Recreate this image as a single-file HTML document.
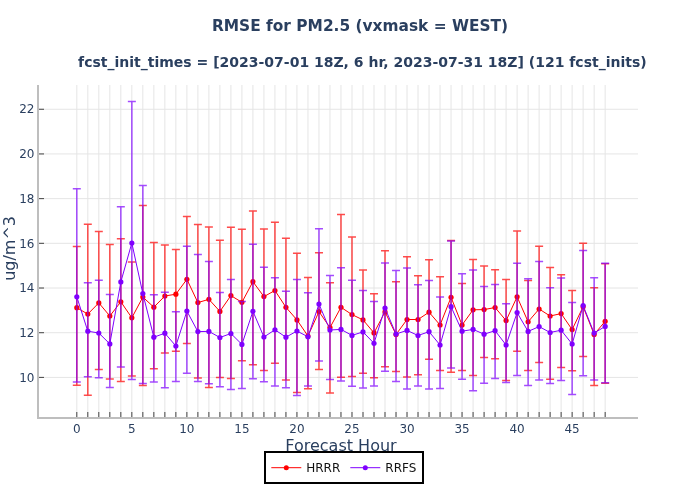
<!DOCTYPE html>
<html><head><meta charset="utf-8"><title>RMSE for PM2.5</title>
<style>html,body{margin:0;padding:0;background:#fff}svg{display:block}text{font-family:"DejaVu Sans", "Liberation Sans", sans-serif}</style></head><body>
<svg width="700" height="500" viewBox="0 0 700 500">
<rect width="700" height="500" fill="#fff"/>
<path d="M76.80,85V417M87.81,85V417M98.81,85V417M109.82,85V417M120.83,85V417M131.84,85V417M142.84,85V417M153.85,85V417M164.86,85V417M175.87,85V417M186.88,85V417M197.88,85V417M208.89,85V417M219.90,85V417M230.91,85V417M241.91,85V417M252.92,85V417M263.93,85V417M274.94,85V417M285.94,85V417M296.95,85V417M307.96,85V417M318.97,85V417M329.97,85V417M340.98,85V417M351.99,85V417M363.00,85V417M374.00,85V417M385.01,85V417M396.02,85V417M407.03,85V417M418.03,85V417M429.04,85V417M440.05,85V417M451.06,85V417M462.06,85V417M473.07,85V417M484.08,85V417M495.09,85V417M506.09,85V417M517.10,85V417M528.11,85V417M539.12,85V417M550.12,85V417M561.13,85V417M572.14,85V417M583.14,85V417M594.15,85V417M605.16,85V417M39,377.40H638M39,332.71H638M39,288.02H638M39,243.32H638M39,198.63H638M39,153.94H638M39,109.25H638" stroke="#e5e5e5" stroke-width="1" fill="none"/>
<g><path d="M72.80,246.40h8m-4,0V385.20m-4,0h8M83.81,224.30h8m-4,0V395.30m-4,0h8M94.81,231.50h8m-4,0V369.40m-4,0h8M105.82,244.50h8m-4,0V379.00m-4,0h8M116.83,238.70h8m-4,0V381.50m-4,0h8M127.84,261.90h8m-4,0V376.10m-4,0h8M138.84,205.40h8m-4,0V385.40m-4,0h8M149.85,242.40h8m-4,0V368.70m-4,0h8M160.86,245.00h8m-4,0V352.90m-4,0h8M171.87,249.60h8m-4,0V351.30m-4,0h8M182.88,216.60h8m-4,0V343.60m-4,0h8M193.88,224.50h8m-4,0V377.90m-4,0h8M204.89,226.90h8m-4,0V387.50m-4,0h8M215.90,240.20h8m-4,0V377.60m-4,0h8M226.91,227.20h8m-4,0V378.40m-4,0h8M237.91,229.30h8m-4,0V360.80m-4,0h8M248.92,211.00h8m-4,0V364.80m-4,0h8M259.93,229.00h8m-4,0V370.50m-4,0h8M270.94,222.20h8m-4,0V363.20m-4,0h8M281.94,238.20h8m-4,0V380.10m-4,0h8M292.95,253.30h8m-4,0V392.60m-4,0h8M303.96,277.50h8m-4,0V388.80m-4,0h8M314.97,252.80h8m-4,0V369.60m-4,0h8M325.97,282.80h8m-4,0V393.10m-4,0h8M336.98,214.50h8m-4,0V377.20m-4,0h8M347.99,237.10h8m-4,0V376.60m-4,0h8M359.00,270.00h8m-4,0V373.20m-4,0h8M370.00,293.70h8m-4,0V377.70m-4,0h8M381.01,250.70h8m-4,0V366.70m-4,0h8M392.02,281.70h8m-4,0V371.60m-4,0h8M403.03,256.80h8m-4,0V376.90m-4,0h8M414.03,275.70h8m-4,0V374.70m-4,0h8M425.04,259.80h8m-4,0V359.20m-4,0h8M436.05,276.80h8m-4,0V370.50m-4,0h8M447.06,240.55h8m-4,0V372.30m-4,0h8M458.06,283.50h8m-4,0V370.50m-4,0h8M469.07,259.50h8m-4,0V375.60m-4,0h8M480.08,266.10h8m-4,0V357.60m-4,0h8M491.09,269.80h8m-4,0V358.70m-4,0h8M502.09,279.40h8m-4,0V380.40m-4,0h8M513.10,231.00h8m-4,0V351.30m-4,0h8M524.11,280.50h8m-4,0V370.40m-4,0h8M535.12,246.20h8m-4,0V362.50m-4,0h8M546.12,267.50h8m-4,0V379.20m-4,0h8M557.13,274.70h8m-4,0V367.50m-4,0h8M568.14,290.40h8m-4,0V370.70m-4,0h8M579.14,243.20h8m-4,0V356.60m-4,0h8M590.15,287.70h8m-4,0V385.50m-4,0h8M601.16,263.65h8m-4,0V383.20m-4,0h8" stroke="rgba(255,0,0,0.7)" stroke-width="1.5" fill="none"/>
<polyline points="76.80,307.70 87.81,314.10 98.81,302.90 109.82,316.00 120.83,301.80 131.84,317.80 142.84,297.10 153.85,307.20 164.86,296.00 175.87,294.20 186.88,279.30 197.88,302.60 208.89,299.30 219.90,311.40 230.91,295.60 241.91,302.30 252.92,281.70 263.93,296.60 274.94,290.50 285.94,307.30 296.95,319.90 307.96,336.00 318.97,311.60 329.97,327.60 340.98,307.30 351.99,314.60 363.00,319.90 374.00,332.90 385.01,311.90 396.02,334.50 407.03,319.50 418.03,319.50 429.04,312.20 440.05,325.00 451.06,297.30 462.06,325.00 473.07,309.80 484.08,309.60 495.09,307.50 506.09,320.60 517.10,296.80 528.11,321.80 539.12,309.00 550.12,316.00 561.13,313.60 572.14,329.60 583.14,306.70 594.15,334.40 605.16,321.30" stroke="#ff0000" stroke-width="1" fill="none"/>
<circle cx="76.80" cy="307.70" r="2.6" fill="#ff0000"/>
<circle cx="87.81" cy="314.10" r="2.6" fill="#ff0000"/>
<circle cx="98.81" cy="302.90" r="2.6" fill="#ff0000"/>
<circle cx="109.82" cy="316.00" r="2.6" fill="#ff0000"/>
<circle cx="120.83" cy="301.80" r="2.6" fill="#ff0000"/>
<circle cx="131.84" cy="317.80" r="2.6" fill="#ff0000"/>
<circle cx="142.84" cy="297.10" r="2.6" fill="#ff0000"/>
<circle cx="153.85" cy="307.20" r="2.6" fill="#ff0000"/>
<circle cx="164.86" cy="296.00" r="2.6" fill="#ff0000"/>
<circle cx="175.87" cy="294.20" r="2.6" fill="#ff0000"/>
<circle cx="186.88" cy="279.30" r="2.6" fill="#ff0000"/>
<circle cx="197.88" cy="302.60" r="2.6" fill="#ff0000"/>
<circle cx="208.89" cy="299.30" r="2.6" fill="#ff0000"/>
<circle cx="219.90" cy="311.40" r="2.6" fill="#ff0000"/>
<circle cx="230.91" cy="295.60" r="2.6" fill="#ff0000"/>
<circle cx="241.91" cy="302.30" r="2.6" fill="#ff0000"/>
<circle cx="252.92" cy="281.70" r="2.6" fill="#ff0000"/>
<circle cx="263.93" cy="296.60" r="2.6" fill="#ff0000"/>
<circle cx="274.94" cy="290.50" r="2.6" fill="#ff0000"/>
<circle cx="285.94" cy="307.30" r="2.6" fill="#ff0000"/>
<circle cx="296.95" cy="319.90" r="2.6" fill="#ff0000"/>
<circle cx="307.96" cy="336.00" r="2.6" fill="#ff0000"/>
<circle cx="318.97" cy="311.60" r="2.6" fill="#ff0000"/>
<circle cx="329.97" cy="327.60" r="2.6" fill="#ff0000"/>
<circle cx="340.98" cy="307.30" r="2.6" fill="#ff0000"/>
<circle cx="351.99" cy="314.60" r="2.6" fill="#ff0000"/>
<circle cx="363.00" cy="319.90" r="2.6" fill="#ff0000"/>
<circle cx="374.00" cy="332.90" r="2.6" fill="#ff0000"/>
<circle cx="385.01" cy="311.90" r="2.6" fill="#ff0000"/>
<circle cx="396.02" cy="334.50" r="2.6" fill="#ff0000"/>
<circle cx="407.03" cy="319.50" r="2.6" fill="#ff0000"/>
<circle cx="418.03" cy="319.50" r="2.6" fill="#ff0000"/>
<circle cx="429.04" cy="312.20" r="2.6" fill="#ff0000"/>
<circle cx="440.05" cy="325.00" r="2.6" fill="#ff0000"/>
<circle cx="451.06" cy="297.30" r="2.6" fill="#ff0000"/>
<circle cx="462.06" cy="325.00" r="2.6" fill="#ff0000"/>
<circle cx="473.07" cy="309.80" r="2.6" fill="#ff0000"/>
<circle cx="484.08" cy="309.60" r="2.6" fill="#ff0000"/>
<circle cx="495.09" cy="307.50" r="2.6" fill="#ff0000"/>
<circle cx="506.09" cy="320.60" r="2.6" fill="#ff0000"/>
<circle cx="517.10" cy="296.80" r="2.6" fill="#ff0000"/>
<circle cx="528.11" cy="321.80" r="2.6" fill="#ff0000"/>
<circle cx="539.12" cy="309.00" r="2.6" fill="#ff0000"/>
<circle cx="550.12" cy="316.00" r="2.6" fill="#ff0000"/>
<circle cx="561.13" cy="313.60" r="2.6" fill="#ff0000"/>
<circle cx="572.14" cy="329.60" r="2.6" fill="#ff0000"/>
<circle cx="583.14" cy="306.70" r="2.6" fill="#ff0000"/>
<circle cx="594.15" cy="334.40" r="2.6" fill="#ff0000"/>
<circle cx="605.16" cy="321.30" r="2.6" fill="#ff0000"/></g>
<g><path d="M72.80,188.80h8m-4,0V382.00m-4,0h8M83.81,282.70h8m-4,0V376.70m-4,0h8M94.81,280.20h8m-4,0V377.80m-4,0h8M105.82,294.60h8m-4,0V387.40m-4,0h8M116.83,206.70h8m-4,0V367.10m-4,0h8M127.84,101.60h8m-4,0V379.60m-4,0h8M138.84,185.60h8m-4,0V383.60m-4,0h8M149.85,294.70h8m-4,0V382.00m-4,0h8M160.86,292.20h8m-4,0V387.80m-4,0h8M171.87,311.70h8m-4,0V381.50m-4,0h8M182.88,246.20h8m-4,0V373.20m-4,0h8M193.88,254.60h8m-4,0V381.60m-4,0h8M204.89,261.60h8m-4,0V383.80m-4,0h8M215.90,292.60h8m-4,0V386.80m-4,0h8M226.91,279.60h8m-4,0V389.60m-4,0h8M237.91,301.40h8m-4,0V388.60m-4,0h8M248.92,244.20h8m-4,0V378.80m-4,0h8M259.93,267.30h8m-4,0V381.70m-4,0h8M270.94,277.80h8m-4,0V385.90m-4,0h8M281.94,291.30h8m-4,0V387.80m-4,0h8M292.95,279.60h8m-4,0V395.50m-4,0h8M303.96,292.70h8m-4,0V386.00m-4,0h8M314.97,228.80h8m-4,0V361.10m-4,0h8M325.97,275.60h8m-4,0V379.60m-4,0h8M336.98,267.70h8m-4,0V380.90m-4,0h8M347.99,280.20h8m-4,0V386.20m-4,0h8M359.00,290.50h8m-4,0V388.00m-4,0h8M370.00,301.50h8m-4,0V386.00m-4,0h8M381.01,262.90h8m-4,0V371.20m-4,0h8M392.02,270.50h8m-4,0V381.40m-4,0h8M403.03,268.00h8m-4,0V388.90m-4,0h8M414.03,284.80h8m-4,0V385.90m-4,0h8M425.04,280.60h8m-4,0V388.90m-4,0h8M436.05,297.10h8m-4,0V388.60m-4,0h8M447.06,241.00h8m-4,0V368.00m-4,0h8M458.06,273.80h8m-4,0V379.20m-4,0h8M469.07,270.10h8m-4,0V390.80m-4,0h8M480.08,286.60h8m-4,0V383.30m-4,0h8M491.09,284.60h8m-4,0V378.40m-4,0h8M502.09,303.70h8m-4,0V382.40m-4,0h8M513.10,263.20h8m-4,0V375.60m-4,0h8M524.11,278.70h8m-4,0V385.60m-4,0h8M535.12,261.40h8m-4,0V380.00m-4,0h8M546.12,287.70h8m-4,0V383.60m-4,0h8M557.13,277.90h8m-4,0V380.40m-4,0h8M568.14,302.40h8m-4,0V394.50m-4,0h8M579.14,250.60h8m-4,0V375.80m-4,0h8M590.15,277.80h8m-4,0V380.10m-4,0h8M601.16,263.15h8m-4,0V382.70m-4,0h8" stroke="rgba(127,0,255,0.7)" stroke-width="1.5" fill="none"/>
<polyline points="76.80,296.80 87.81,331.20 98.81,333.00 109.82,343.90 120.83,281.90 131.84,243.00 142.84,293.60 153.85,337.20 164.86,333.20 175.87,346.00 186.88,311.10 197.88,331.60 208.89,331.40 219.90,337.50 230.91,333.50 241.91,344.40 252.92,311.30 263.93,337.00 274.94,329.80 285.94,337.20 296.95,331.00 307.96,336.80 318.97,304.10 329.97,330.00 340.98,329.40 351.99,335.40 363.00,331.90 374.00,343.30 385.01,308.10 396.02,334.00 407.03,330.40 418.03,335.50 429.04,331.70 440.05,345.00 451.06,306.70 462.06,331.20 473.07,329.40 484.08,334.20 495.09,330.70 506.09,345.00 517.10,312.60 528.11,331.40 539.12,326.60 550.12,332.50 561.13,330.20 572.14,344.00 583.14,305.60 594.15,333.10 605.16,326.40" stroke="#7f00ff" stroke-width="1" fill="none"/>
<circle cx="76.80" cy="296.80" r="2.6" fill="#7f00ff"/>
<circle cx="87.81" cy="331.20" r="2.6" fill="#7f00ff"/>
<circle cx="98.81" cy="333.00" r="2.6" fill="#7f00ff"/>
<circle cx="109.82" cy="343.90" r="2.6" fill="#7f00ff"/>
<circle cx="120.83" cy="281.90" r="2.6" fill="#7f00ff"/>
<circle cx="131.84" cy="243.00" r="2.6" fill="#7f00ff"/>
<circle cx="142.84" cy="293.60" r="2.6" fill="#7f00ff"/>
<circle cx="153.85" cy="337.20" r="2.6" fill="#7f00ff"/>
<circle cx="164.86" cy="333.20" r="2.6" fill="#7f00ff"/>
<circle cx="175.87" cy="346.00" r="2.6" fill="#7f00ff"/>
<circle cx="186.88" cy="311.10" r="2.6" fill="#7f00ff"/>
<circle cx="197.88" cy="331.60" r="2.6" fill="#7f00ff"/>
<circle cx="208.89" cy="331.40" r="2.6" fill="#7f00ff"/>
<circle cx="219.90" cy="337.50" r="2.6" fill="#7f00ff"/>
<circle cx="230.91" cy="333.50" r="2.6" fill="#7f00ff"/>
<circle cx="241.91" cy="344.40" r="2.6" fill="#7f00ff"/>
<circle cx="252.92" cy="311.30" r="2.6" fill="#7f00ff"/>
<circle cx="263.93" cy="337.00" r="2.6" fill="#7f00ff"/>
<circle cx="274.94" cy="329.80" r="2.6" fill="#7f00ff"/>
<circle cx="285.94" cy="337.20" r="2.6" fill="#7f00ff"/>
<circle cx="296.95" cy="331.00" r="2.6" fill="#7f00ff"/>
<circle cx="307.96" cy="336.80" r="2.6" fill="#7f00ff"/>
<circle cx="318.97" cy="304.10" r="2.6" fill="#7f00ff"/>
<circle cx="329.97" cy="330.00" r="2.6" fill="#7f00ff"/>
<circle cx="340.98" cy="329.40" r="2.6" fill="#7f00ff"/>
<circle cx="351.99" cy="335.40" r="2.6" fill="#7f00ff"/>
<circle cx="363.00" cy="331.90" r="2.6" fill="#7f00ff"/>
<circle cx="374.00" cy="343.30" r="2.6" fill="#7f00ff"/>
<circle cx="385.01" cy="308.10" r="2.6" fill="#7f00ff"/>
<circle cx="396.02" cy="334.00" r="2.6" fill="#7f00ff"/>
<circle cx="407.03" cy="330.40" r="2.6" fill="#7f00ff"/>
<circle cx="418.03" cy="335.50" r="2.6" fill="#7f00ff"/>
<circle cx="429.04" cy="331.70" r="2.6" fill="#7f00ff"/>
<circle cx="440.05" cy="345.00" r="2.6" fill="#7f00ff"/>
<circle cx="451.06" cy="306.70" r="2.6" fill="#7f00ff"/>
<circle cx="462.06" cy="331.20" r="2.6" fill="#7f00ff"/>
<circle cx="473.07" cy="329.40" r="2.6" fill="#7f00ff"/>
<circle cx="484.08" cy="334.20" r="2.6" fill="#7f00ff"/>
<circle cx="495.09" cy="330.70" r="2.6" fill="#7f00ff"/>
<circle cx="506.09" cy="345.00" r="2.6" fill="#7f00ff"/>
<circle cx="517.10" cy="312.60" r="2.6" fill="#7f00ff"/>
<circle cx="528.11" cy="331.40" r="2.6" fill="#7f00ff"/>
<circle cx="539.12" cy="326.60" r="2.6" fill="#7f00ff"/>
<circle cx="550.12" cy="332.50" r="2.6" fill="#7f00ff"/>
<circle cx="561.13" cy="330.20" r="2.6" fill="#7f00ff"/>
<circle cx="572.14" cy="344.00" r="2.6" fill="#7f00ff"/>
<circle cx="583.14" cy="305.60" r="2.6" fill="#7f00ff"/>
<circle cx="594.15" cy="333.10" r="2.6" fill="#7f00ff"/>
<circle cx="605.16" cy="326.40" r="2.6" fill="#7f00ff"/></g>
<path d="M38,85V418" stroke="#bebebe" stroke-width="2" fill="none"/>
<path d="M37,418H638" stroke="#bebebe" stroke-width="2" fill="none"/>
<path d="M76.80,417v-5M87.81,417v-5M98.81,417v-5M109.82,417v-5M120.83,417v-5M131.84,417v-5M142.84,417v-5M153.85,417v-5M164.86,417v-5M175.87,417v-5M186.88,417v-5M197.88,417v-5M208.89,417v-5M219.90,417v-5M230.91,417v-5M241.91,417v-5M252.92,417v-5M263.93,417v-5M274.94,417v-5M285.94,417v-5M296.95,417v-5M307.96,417v-5M318.97,417v-5M329.97,417v-5M340.98,417v-5M351.99,417v-5M363.00,417v-5M374.00,417v-5M385.01,417v-5M396.02,417v-5M407.03,417v-5M418.03,417v-5M429.04,417v-5M440.05,417v-5M451.06,417v-5M462.06,417v-5M473.07,417v-5M484.08,417v-5M495.09,417v-5M506.09,417v-5M517.10,417v-5M528.11,417v-5M539.12,417v-5M550.12,417v-5M561.13,417v-5M572.14,417v-5M583.14,417v-5M594.15,417v-5M605.16,417v-5" stroke="#444" stroke-width="1" fill="none"/>
<path d="M39,377.40h5M39,332.71h5M39,288.02h5M39,243.32h5M39,198.63h5M39,153.94h5M39,109.25h5" stroke="#444" stroke-width="1" fill="none"/>
<text x="76.80" y="433.1" font-size="12" fill="#2a3f5f" text-anchor="middle">0</text>
<text x="131.84" y="433.1" font-size="12" fill="#2a3f5f" text-anchor="middle">5</text>
<text x="186.88" y="433.1" font-size="12" fill="#2a3f5f" text-anchor="middle">10</text>
<text x="241.91" y="433.1" font-size="12" fill="#2a3f5f" text-anchor="middle">15</text>
<text x="296.95" y="433.1" font-size="12" fill="#2a3f5f" text-anchor="middle">20</text>
<text x="351.99" y="433.1" font-size="12" fill="#2a3f5f" text-anchor="middle">25</text>
<text x="407.03" y="433.1" font-size="12" fill="#2a3f5f" text-anchor="middle">30</text>
<text x="462.06" y="433.1" font-size="12" fill="#2a3f5f" text-anchor="middle">35</text>
<text x="517.10" y="433.1" font-size="12" fill="#2a3f5f" text-anchor="middle">40</text>
<text x="572.14" y="433.1" font-size="12" fill="#2a3f5f" text-anchor="middle">45</text>
<text x="34.45" y="381.60" font-size="12" fill="#2a3f5f" text-anchor="end">10</text>
<text x="34.45" y="336.91" font-size="12" fill="#2a3f5f" text-anchor="end">12</text>
<text x="34.45" y="292.22" font-size="12" fill="#2a3f5f" text-anchor="end">14</text>
<text x="34.45" y="247.52" font-size="12" fill="#2a3f5f" text-anchor="end">16</text>
<text x="34.45" y="202.83" font-size="12" fill="#2a3f5f" text-anchor="end">18</text>
<text x="34.45" y="158.14" font-size="12" fill="#2a3f5f" text-anchor="end">20</text>
<text x="34.45" y="113.45" font-size="12" fill="#2a3f5f" text-anchor="end">22</text>
<text x="360" y="30.8" font-size="15.4" font-weight="bold" fill="#2a3f5f" text-anchor="middle">RMSE for PM2.5 (vxmask = WEST)</text>
<text x="362.4" y="66.5" font-size="14" font-weight="bold" fill="#2a3f5f" text-anchor="middle">fcst_init_times = [2023-07-01 18Z, 6 hr, 2023-07-31 18Z] (121 fcst_inits)</text>
<text x="341" y="451" font-size="16" fill="#2a3f5f" text-anchor="middle">Forecast Hour</text>
<text transform="translate(15,248.45) rotate(-90)" font-size="16" fill="#2a3f5f" text-anchor="middle">ug/m^3</text>
<rect x="265" y="452" width="158" height="31" fill="#fff" stroke="#000" stroke-width="2"/>
<path d="M271.3,467.7h30" stroke="#ff0000" stroke-width="1"/><circle cx="286.3" cy="467.7" r="2.5" fill="#ff0000"/>
<text x="306.2" y="472" font-size="12" fill="#111">HRRR</text>
<path d="M350.3,467.7h30" stroke="#7f00ff" stroke-width="1"/><circle cx="365.3" cy="467.7" r="2.5" fill="#7f00ff"/>
<text x="385.3" y="472" font-size="12" fill="#111">RRFS</text>
</svg></body></html>
